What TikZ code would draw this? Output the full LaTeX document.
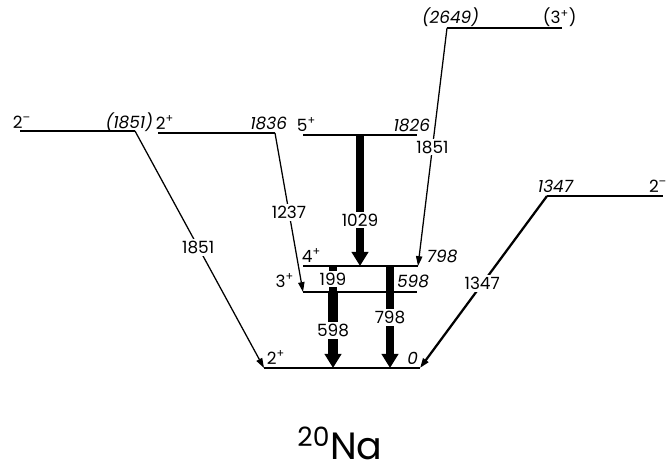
\documentclass[tikz,border=0pt]{standalone}
\usepackage{fontspec}
\setmainfont{Poppins}
\usetikzlibrary{arrows.meta}

\tikzset{
  niveau/.style={line width=1pt},
  trans/.style={line width=0.9pt,-{Triangle[length=7pt,width=4.5pt]}},
  transforte/.style={line width=#1,-{Triangle[length=10pt,width=11.5pt]}},
  etiq/.style={font=\fontsize{12}{14}\selectfont,inner sep=0.5pt},
  energie/.style={etiq,font=\fontsize{12}{14}\selectfont\itshape},
  valeur/.style={etiq,fill=white,inner sep=1.5pt}
}

\begin{document}
\begin{tikzpicture}[x=0.025cm,y=-0.025cm]
  \useasboundingbox (0,0) rectangle (668,473);

  % Extremites des niveaux
  \coordinate (A1) at (20,131);  \coordinate (A2) at (135,131);  % 2- (1851)
  \coordinate (B1) at (158,133); \coordinate (B2) at (275,133);  % 2+ 1836
  \coordinate (C1) at (303,135); \coordinate (C2) at (417,135);  % 5+ 1826
  \coordinate (D1) at (447,28);  \coordinate (D2) at (562,28);   % (3+) (2649)
  \coordinate (E1) at (547,196); \coordinate (E2) at (663,196);  % 2- 1347
  \coordinate (F1) at (303,266); \coordinate (F2) at (418,266);  % 4+ 798
  \coordinate (H1) at (303,292); \coordinate (H2) at (417,292);  % 3+ 598
  \coordinate (G1) at (264,368); \coordinate (G2) at (420,368);  % 2+ 0

  % Les niveaux
  \draw[niveau] (A1) -- (A2);
  \draw[niveau] (B1) -- (B2);
  \draw[niveau] (C1) -- (C2);
  \draw[niveau] (D1) -- (D2);
  \draw[niveau] (E1) -- (E2);
  \draw[niveau] (F1) -- (F2);
  \draw[niveau] (H1) -- (H2);
  \draw[niveau] (G1) -- (G2);

  % Spins et energies des niveaux
  \node[etiq,anchor=base west] (jA) at (12,128) {2\textsuperscript{--}};
  \node[energie,anchor=base east] (eA) at (154,128) {(1851)};
  \node[etiq,anchor=base west] (jB) at (155,129) {2\textsuperscript{+}};
  \node[energie,anchor=base east] (eB) at (288,129) {1836};
  \node[etiq,anchor=base west] (jC) at (296,131) {5\textsuperscript{+}};
  \node[energie,anchor=base east] (eC) at (431,131) {1826};
  \node[energie,anchor=base east] (eD) at (480,24) {(2649)};
  \node[etiq,anchor=base west] (jD) at (542,24) {(3\textsuperscript{+})};
  \node[energie,anchor=base east] (eE) at (574,192) {1347};
  \node[etiq,anchor=base east] (jE) at (668,192) {2\textsuperscript{--}};
  \node[etiq,anchor=base west] (jF) at (301,262) {4\textsuperscript{+}};
  \node[energie,anchor=base west] (eF) at (426,262) {798};
  \node[etiq,anchor=base east] (jH) at (295,287) {3\textsuperscript{+}};
  \node[energie,anchor=base east] (eH) at (430,287) {598};
  \node[etiq,anchor=base west] (jG) at (266,364) {2\textsuperscript{+}};
  \node[energie,anchor=base east] (eG) at (419,364) {0};

  % Points de depart et d'arrivee des transitions verticales
  \coordinate (d1029) at (360,135); \coordinate (a1029) at (360,266);
  \coordinate (d199) at (333,266);  \coordinate (a199) at (333,292);
  \coordinate (d598) at (333,292);  \coordinate (a598) at (333,368);
  \coordinate (d798) at (390,266);  \coordinate (a798) at (390,368);

  % Transitions obliques (fines)
  \draw[trans] (A2) -- node[valeur,pos=0.49] {1851} (G1);
  \draw[trans] (B2) -- node[valeur,pos=0.5] {1237} (H1);
  \draw[trans] (D1) -- node[valeur,pos=0.5] {1851} (F2);
  \draw[trans,line width=1.6pt] (E1) -- node[valeur,pos=0.51] {1347} (G2);

  % Transitions intenses (traits epais)
  \draw[transforte=5.5pt] (d1029) -- node[valeur,pos=0.65] {1029} (a1029);
  \draw[line width=5.5pt] (d199) -- node[valeur,pos=0.5] {199} (a199);
  \draw[transforte=7pt] (d598) -- node[valeur,pos=0.5] {598} (a598);
  \draw[transforte=5pt] (d798) -- node[valeur,pos=0.5] {798} (a798);

  % Le noyau
  \node[anchor=base,inner sep=0pt] (noyau) at (340,459) {\fontsize{27}{29}\selectfont\textsuperscript{20}Na};
\end{tikzpicture}
\end{document}
